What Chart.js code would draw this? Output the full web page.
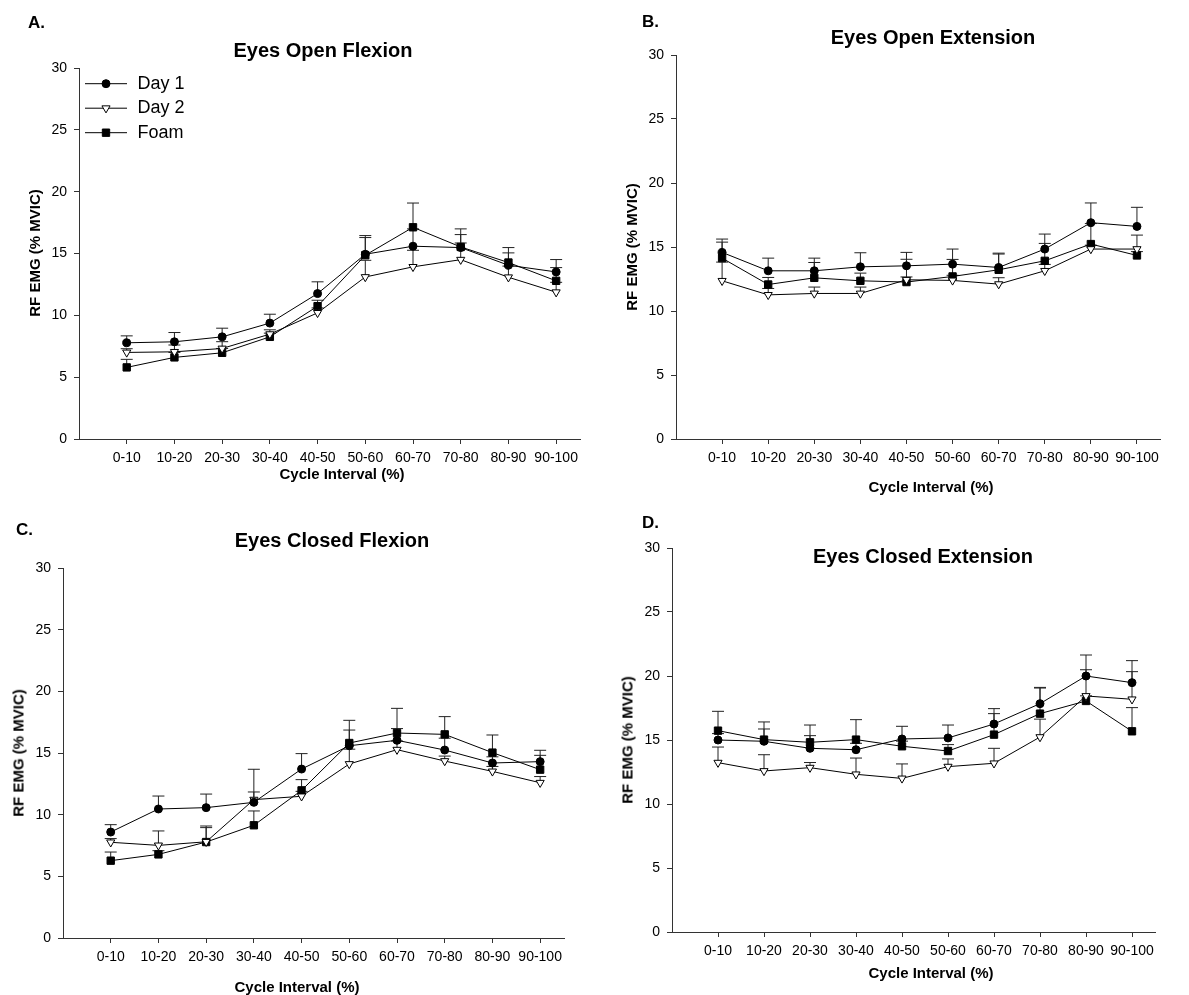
<!DOCTYPE html>
<html>
<head>
<meta charset="utf-8">
<script src="https://cdn.jsdelivr.net/npm/chart.js"></script>
<style>
  html, body { margin: 0; padding: 0; background: #fff; }
  #fig { position: relative; width: 1189px; height: 995px; background: #fff; overflow: hidden;
         font-family: "Liberation Sans", Arial, sans-serif; color: #000; }
  #fig canvas { position: absolute; }
  .lbl { position: absolute; white-space: nowrap; line-height: 1; font-weight: bold;
         transform: translate(-50%, -50%); }
  .panel { font-size: 17px; transform: translate(0, -50%); }
  .title { font-size: 20px; }
  .axt { font-size: 15px; }
  .axt.y { transform: translate(-50%, -50%) rotate(-90deg); }
</style>
</head>
<body>
<div id="fig">
  <canvas id="cA" width="595" height="500" style="left:0;top:0"></canvas>
  <canvas id="cB" width="594" height="500" style="left:595px;top:0"></canvas>
  <canvas id="cC" width="595" height="495" style="left:0;top:500px"></canvas>
  <canvas id="cD" width="594" height="495" style="left:595px;top:500px"></canvas>

  <div class="lbl panel" style="left:28px;top:22px">A.</div>
  <div class="lbl panel" style="left:642px;top:21px">B.</div>
  <div class="lbl panel" style="left:16px;top:529px">C.</div>
  <div class="lbl panel" style="left:642px;top:522px">D.</div>

  <div class="lbl title" style="left:323px;top:50px">Eyes Open Flexion</div>
  <div class="lbl title" style="left:933px;top:37px">Eyes Open Extension</div>
  <div class="lbl title" style="left:332px;top:540px">Eyes Closed Flexion</div>
  <div class="lbl title" style="left:923px;top:556px">Eyes Closed Extension</div>

  <div class="lbl axt y" style="left:34px;top:253px">RF EMG (% MVIC)</div>
  <div class="lbl axt y" style="left:631px;top:247px">RF EMG (% MVIC)</div>
  <div class="lbl axt y" style="left:18px;top:753px">RF EMG (% MVIC)</div>
  <div class="lbl axt y" style="left:627px;top:740px">RF EMG (% MVIC)</div>

  <div class="lbl axt" style="left:342px;top:473px">Cycle Interval (%)</div>
  <div class="lbl axt" style="left:931px;top:486px">Cycle Interval (%)</div>
  <div class="lbl axt" style="left:297px;top:986px">Cycle Interval (%)</div>
  <div class="lbl axt" style="left:931px;top:972px">Cycle Interval (%)</div>
</div>

<script>
const categories = ['0-10', '10-20', '20-30', '30-40', '40-50', '50-60', '60-70', '70-80', '80-90', '90-100'];
const seriesNames = ['Day 1', 'Day 2', 'Foam'];
const yMin = 0, yMax = 30, yStep = 5;

// A. Eyes Open Flexion
const day1A    = [7.78, 7.86, 8.26, 9.37, 11.76, 14.94, 15.59, 15.48, 14.05, 13.51];
const day1AErr = [0.56, 0.75, 0.70, 0.72, 0.95, 1.51, 1.40, 1.05, 1.00, 1.00];
const day2A    = [7.00, 7.05, 7.32, 8.48, 10.20, 13.10, 13.92, 14.50, 13.08, 11.87];
const day2AErr = [0.30, 0.55, 0.55, 0.35, 0.40, 1.35, 1.34, 1.35, 0.90, 0.80];
const foamA    = [5.79, 6.60, 6.97, 8.26, 10.74, 14.86, 17.12, 15.53, 14.27, 12.79];
const foamAErr = [0.65, 0.40, 0.35, 0.30, 0.48, 1.43, 1.96, 1.46, 1.21, 1.07];

// B. Eyes Open Extension
const day1B    = [14.58, 13.14, 13.14, 13.45, 13.53, 13.66, 13.40, 14.84, 16.90, 16.61];
const day1BErr = [1.04, 0.99, 0.99, 1.10, 1.05, 1.18, 1.12, 1.17, 1.54, 1.49];
const day2B    = [12.36, 11.26, 11.37, 11.37, 12.44, 12.39, 12.10, 13.14, 14.84, 14.84];
const day2BErr = [1.46, 0.50, 0.50, 0.50, 1.60, 0.40, 0.50, 0.50, 0.30, 1.09];
const foamB    = [14.13, 12.07, 12.59, 12.36, 12.26, 12.70, 13.22, 13.92, 15.23, 14.34];
const foamBErr = [1.25, 0.55, 1.20, 0.60, 0.40, 1.33, 1.23, 1.36, 1.60, 0.30];

// C. Eyes Closed Flexion
const day1C    = [8.59, 10.46, 10.57, 11.00, 13.70, 15.59, 16.03, 15.24, 14.19, 14.30];
const day1CErr = [0.60, 1.05, 1.10, 2.68, 1.25, 1.27, 0.95, 0.96, 0.50, 0.92];
const day2C    = [7.76, 7.51, 7.80, 11.22, 11.49, 14.11, 15.27, 14.35, 13.51, 12.59];
const day2CErr = [0.30, 1.17, 1.28, 0.62, 0.40, 1.20, 0.70, 0.40, 0.40, 0.50];
const foamC    = [6.27, 6.78, 7.78, 9.14, 11.97, 15.81, 16.62, 16.51, 15.03, 13.65];
const foamCErr = [0.70, 0.30, 1.17, 1.16, 0.87, 1.84, 2.00, 1.44, 1.43, 1.16];

// D. Eyes Closed Extension
const day1D    = [15.00, 14.90, 14.35, 14.24, 15.08, 15.16, 16.25, 17.84, 20.00, 19.48];
const day1DErr = [0.50, 0.96, 0.99, 0.50, 0.99, 1.01, 1.20, 1.27, 1.64, 1.72];
const day2D    = [13.23, 12.58, 12.84, 12.32, 12.00, 12.92, 13.18, 15.23, 18.44, 18.18];
const day2DErr = [1.22, 1.27, 0.40, 1.27, 1.13, 0.60, 1.17, 1.40, 2.05, 2.16];
const foamD    = [15.73, 15.03, 14.82, 15.03, 14.51, 14.14, 15.42, 17.06, 18.05, 15.68];
const foamDErr = [1.51, 1.38, 1.35, 1.56, 0.40, 0.50, 1.64, 2.00, 0.40, 1.85];

const FONT = '"Liberation Sans", Arial, sans-serif';
const AXIS = '#333';

// marker look per series (Day 1, Day 2, Foam)
const markers = [
  { pointStyle: 'circle', pointRadius: 4, pointRotation: 0, pointBackgroundColor: '#000' },
  { pointStyle: 'triangle', pointRadius: 4.7, pointRotation: 180, pointBackgroundColor: '#fff' },
  { pointStyle: 'rect', pointRadius: 5.2, pointRotation: 0, pointBackgroundColor: '#000' }
];

// upward error bars, drawn under the markers
const errorBars = {
  id: 'errorBars',
  beforeDatasetsDraw(chart) {
    const { ctx } = chart;
    const y = chart.scales.y;
    ctx.save();
    ctx.strokeStyle = '#222';
    ctx.lineWidth = 1;
    chart.data.datasets.forEach((ds, i) => {
      chart.getDatasetMeta(i).data.forEach((pt, j) => {
        const top = y.getPixelForValue(ds.data[j].y + ds.errors[j]);
        ctx.beginPath();
        ctx.moveTo(pt.x, pt.y);
        ctx.lineTo(pt.x, top);
        ctx.moveTo(pt.x - 6, top);
        ctx.lineTo(pt.x + 6, top);
        ctx.stroke();
      });
    });
    ctx.restore();
  }
};

// line-and-marker legend inside the plot (panel A only)
const lineLegend = {
  id: 'lineLegend',
  afterDatasetsDraw(chart, args, opts) {
    if (!opts.show) return;
    const { ctx, chartArea } = chart;
    ctx.save();
    chart.data.datasets.forEach((ds, i) => {
      const yy = chartArea.top + opts.top + i * opts.rowGap;
      const x0 = chartArea.left + opts.left;
      ctx.strokeStyle = '#000';
      ctx.lineWidth = 1;
      ctx.beginPath();
      ctx.moveTo(x0, yy);
      ctx.lineTo(x0 + opts.lineLen, yy);
      ctx.stroke();
      ctx.fillStyle = ds.pointBackgroundColor;
      Chart.helpers.drawPoint(ctx, {
        pointStyle: ds.pointStyle, rotation: ds.pointRotation,
        radius: ds.pointRadius, borderWidth: 1
      }, x0 + opts.lineLen / 2, yy);
      ctx.fillStyle = '#000';
      ctx.font = '18px ' + FONT;
      ctx.textBaseline = 'middle';
      ctx.textAlign = 'left';
      ctx.fillText(ds.label, x0 + opts.lineLen + opts.gap, yy);
    });
    ctx.restore();
  }
};

function makePanel(id, pad, series, showLegend) {
  const datasets = series.map((s, i) => ({
    label: seriesNames[i],
    data: s.values.map((v, k) => ({ x: k, y: v })),
    errors: s.errors,
    borderColor: '#000',
    borderWidth: 1,
    pointBorderColor: '#000',
    pointBorderWidth: 1,
    pointHoverRadius: markers[i].pointRadius,
    tension: 0,
    fill: false,
    clip: false,
    ...markers[i]
  }));

  return new Chart(document.getElementById(id), {
    type: 'line',
    data: { datasets },
    plugins: [errorBars, lineLegend],
    options: {
      responsive: false,
      animation: false,
      events: [],
      layout: { autoPadding: false, padding: pad },
      plugins: {
        legend: { display: false },
        tooltip: { enabled: false },
        title: { display: false },
        lineLegend: { show: showLegend, left: 6, top: 15.7, rowGap: 24.5, lineLen: 42, gap: 10.5 }
      },
      scales: {
        x: {
          type: 'linear',
          min: -1,
          max: categories.length - 0.5,
          afterFit: (s) => { s.height = 30; },
          afterBuildTicks: (s) => { s.ticks = categories.map((c, k) => ({ value: k })); },
          border: { display: true, color: AXIS, width: 1 },
          grid: { display: true, drawOnChartArea: false, drawTicks: true, tickLength: 5, tickColor: AXIS },
          ticks: {
            autoSkip: false, maxRotation: 0, padding: 6, color: '#000',
            font: { family: FONT, size: 14 },
            callback: (v) => categories[v] ?? ''
          }
        },
        y: {
          min: yMin,
          max: yMax,
          afterFit: (s) => { s.width = 40; },
          border: { display: true, color: AXIS, width: 1 },
          grid: { display: true, drawOnChartArea: false, drawTicks: true, tickLength: 5, tickColor: AXIS },
          ticks: { stepSize: yStep, padding: 7, color: '#000', font: { family: FONT, size: 14 } }
        }
      }
    }
  });
}

// chart areas: A 79..580 x 68..439, B 676..1160 x 55..439, C 63..564 x 568..938, D 672..1155 x 548..932
makePanel('cA', { left: 39, top: 68, right: 15, bottom: 31 }, [
  { values: day1A, errors: day1AErr },
  { values: day2A, errors: day2AErr },
  { values: foamA, errors: foamAErr }
], true);

makePanel('cB', { left: 41, top: 55, right: 29, bottom: 31 }, [
  { values: day1B, errors: day1BErr },
  { values: day2B, errors: day2BErr },
  { values: foamB, errors: foamBErr }
], false);

makePanel('cC', { left: 23, top: 68, right: 31, bottom: 27 }, [
  { values: day1C, errors: day1CErr },
  { values: day2C, errors: day2CErr },
  { values: foamC, errors: foamCErr }
], false);

makePanel('cD', { left: 37, top: 48, right: 34, bottom: 33 }, [
  { values: day1D, errors: day1DErr },
  { values: day2D, errors: day2DErr },
  { values: foamD, errors: foamDErr }
], false);
</script>
</body>
</html>
